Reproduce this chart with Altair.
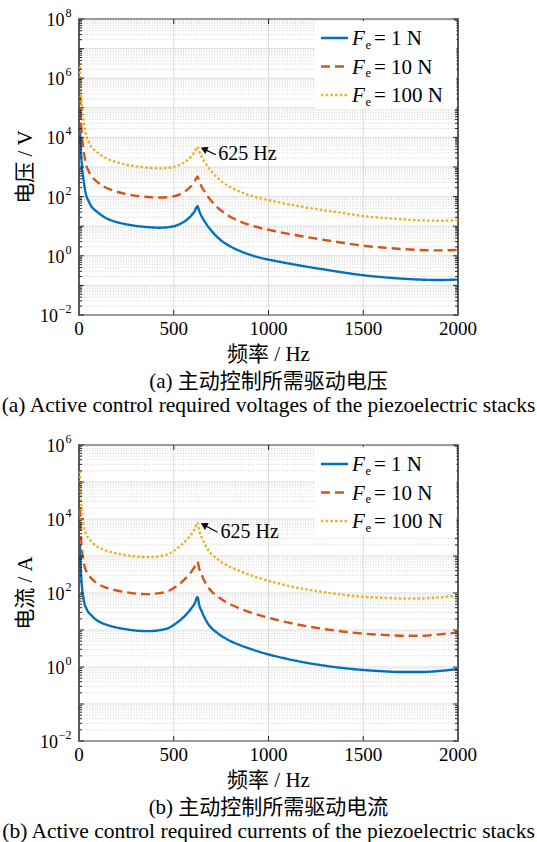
import altair as alt
import pandas as pd

# ---------------- data ----------------
FREQ = [5, 7, 10, 16, 25, 40, 50, 65, 80, 100, 135, 180, 225, 270, 315, 365, 425, 475,
        525, 560, 590, 610, 625, 635, 648, 662, 680, 700, 725, 760, 800, 850, 900, 960,
        1030, 1100, 1200, 1300, 1400, 1500, 1600, 1700, 1800, 1900, 2000]

VOLT_1N = [2.5e4, 1.0e4, 3700, 1000, 325, 100, 72, 47, 37, 29, 20, 15, 12.5, 11, 10, 9.3,
           8.9, 9.3, 11.3, 15, 22, 32, 47, 32, 21, 14.8, 10, 6.9, 4.6, 2.95, 2.05, 1.45,
           1.1, 0.85, 0.68, 0.56, 0.43, 0.34, 0.27, 0.22, 0.19, 0.17, 0.157, 0.152, 0.158]
VOLT_10N = [2.5e5, 1.0e5, 37000, 10500, 3400, 1050, 750, 490, 385, 300, 210, 160, 132, 115,
            104, 97, 93, 96, 115, 150, 220, 320, 480, 320, 210, 150, 101, 70, 46.5, 30,
            20.5, 14.5, 11, 8.6, 6.9, 5.6, 4.3, 3.4, 2.7, 2.2, 1.9, 1.7, 1.57, 1.52, 1.58]
VOLT_100N = [2.5e6, 1.0e6, 3.7e5, 1.03e5, 33000, 10300, 7300, 4800, 3800, 3000, 2100, 1580,
             1300, 1130, 1020, 950, 900, 940, 1130, 1500, 2200, 3200, 4850, 3250, 2130, 1500,
             1010, 700, 465, 300, 207, 146, 111, 87, 69, 56, 43, 34, 27.5, 22, 19.2, 17.2,
             15.8, 15.3, 15.8]

CURR_1N = [2000, 900, 380, 140, 65, 37, 30, 25, 21, 17.5, 14.5, 12.3, 11, 10.1, 9.5, 9.3,
           9.9, 11.5, 17, 24.5, 37, 52, 77, 46, 31.5, 22, 15, 11.2, 8.7, 6.5, 5.0, 3.9,
           3.15, 2.5, 2.0, 1.65, 1.3, 1.08, 0.93, 0.83, 0.77, 0.73, 0.73, 0.78, 0.88]
CURR_10N = [20000, 9000, 3800, 1400, 650, 370, 300, 250, 210, 175, 145, 123, 110, 101, 95,
            93, 99, 115, 168, 240, 360, 510, 700, 440, 300, 212, 146, 110, 85, 64, 49, 38,
            30.5, 24.5, 19.5, 16, 12.7, 10.5, 9.0, 8.0, 7.4, 7.0, 7.0, 7.6, 8.6]
CURR_100N = [2.0e5, 90000, 38000, 14000, 6500, 3700, 3000, 2500, 2100, 1750, 1450, 1230,
             1100, 1010, 950, 930, 990, 1150, 1700, 2450, 3700, 5300, 8000, 4700, 3150, 2200,
             1500, 1120, 870, 650, 500, 390, 310, 245, 195, 158, 125, 104, 89, 79, 74, 71,
             71, 76, 86]

SERIES = ["Fe = 1 N", "Fe = 10 N", "Fe = 100 N"]
LEGEND_TEXT = ["= 1 N", "= 10 N", "= 100 N"]
COLORS = ["#0072BD", "#D95319", "#EDB120"]
DASHES = [[1, 0], [9, 5], [2.5, 2.2]]
X_TICKS = [0, 500, 1000, 1500, 2000]
X_LABELS = ["0", "500", "1000", "1500", "2000"]

# annotation "625 Hz": arrow tail, arrow end, head, text (data coords)
ANN_V = {"x1": 722, "y1": 2600, "x2": 660, "y2": 4000, "hx": 659, "hy": 4050,
         "tx": 735, "ty": 2800, "angle": 295}
ANN_I = {"x1": 731, "y1": 4370, "x2": 660, "y2": 6900, "hx": 659, "hy": 6930,
         "tx": 747, "ty": 4400, "angle": 298}

FONT = "Liberation Serif, Noto Sans CJK SC"
W, H = 379, 296
AXC = "#262626"
GRID = "#dcdcdc"


def panel(vals, emin, emax, ytitle, cap_cn, cap_en, ann):
    df = pd.DataFrame({
        "f": FREQ * 3,
        "v": vals[0] + vals[1] + vals[2],
        "s": [SERIES[i] for i in range(3) for _ in FREQ],
    })
    xs = alt.Scale(domain=[0, 2000], nice=False, zero=False)
    ys = alt.Scale(type="log", domain=[10.0 ** emin, 10.0 ** emax], nice=False)
    Y = lambda field: alt.Y(field, scale=ys, axis=None)
    X = lambda field: alt.X(field, scale=xs, axis=None)

    decades = [10.0 ** e for e in range(emin, emax + 1)]
    minors = [k * 10.0 ** e for e in range(emin, emax) for k in range(2, 10)]
    dec_df = pd.DataFrame({"v": decades})
    minor_df = pd.DataFrame({"v": minors})
    xt_df = pd.DataFrame({"f": X_TICKS, "lab": X_LABELS})
    xin_df = pd.DataFrame({"f": X_TICKS[1:-1]})
    even = list(range(emin, emax + 1, 2))
    ylab_pos = pd.DataFrame({"v": [10.0 ** e for e in even if e >= 0],
                             "sup": [str(e) for e in even if e >= 0]})
    ylab_neg = pd.DataFrame({"v": [10.0 ** e for e in even if e < 0],
                             "sup": ["\u2212" + str(-e) for e in even if e < 0]})

    layers = []
    # grid
    layers.append(alt.Chart(dec_df).mark_rule(color=GRID, strokeWidth=1).encode(
        x=alt.value(0), x2=alt.value(W), y=Y("v:Q")))
    layers.append(alt.Chart(minor_df).mark_rule(color="#c8c8c8", strokeWidth=0.8,
                                                strokeDash=[1, 1.6]).encode(
        x=alt.value(0), x2=alt.value(W), y=Y("v:Q")))
    layers.append(alt.Chart(xin_df).mark_rule(color=GRID, strokeWidth=1).encode(
        y=alt.value(0), y2=alt.value(H), x=X("f:Q")))
    # curves
    layers.append(alt.Chart(df).mark_line(strokeWidth=2.4, interpolate="monotone",
                                          clip=True).encode(
        x=X("f:Q"), y=Y("v:Q"),
        color=alt.Color("s:N", scale=alt.Scale(domain=SERIES, range=COLORS), legend=None),
        strokeDash=alt.StrokeDash("s:N", scale=alt.Scale(domain=SERIES, range=DASHES),
                                  legend=None)))
    # inner ticks
    for (a, b, data) in [(0, 5, dec_df), (W - 5, W, dec_df), (0, 3, minor_df),
                         (W - 3, W, minor_df)]:
        layers.append(alt.Chart(data).mark_rule(color=AXC, strokeWidth=1).encode(
            x=alt.value(a), x2=alt.value(b), y=Y("v:Q")))
    for (a, b) in [(H, H - 5), (0, 5)]:
        layers.append(alt.Chart(xin_df).mark_rule(color=AXC, strokeWidth=1).encode(
            y=alt.value(a), y2=alt.value(b), x=X("f:Q")))
    # tick labels
    layers.append(alt.Chart(xt_df).mark_text(font=FONT, fontSize=19, align="center",
                                             baseline="alphabetic", color="black").encode(
        x=X("f:Q"), y=alt.value(H + 20), text="lab:N"))
    for data, base_x in [(ylab_pos, -14.5), (ylab_neg, -21)]:
        layers.append(alt.Chart(data).mark_text(font=FONT, fontSize=18, align="right",
                                                baseline="middle", dy=2,
                                                color="black").encode(
            x=alt.value(base_x), y=Y("v:Q"), text=alt.value("10")))
        layers.append(alt.Chart(data).mark_text(font=FONT, fontSize=12, align="right",
                                                baseline="middle", dy=-6,
                                                color="black").encode(
            x=alt.value(-7.5), y=Y("v:Q"), text="sup:N"))
    # axis titles
    one = pd.DataFrame({"a": [0]})
    layers.append(alt.Chart(one).mark_text(font=FONT, fontSize=21, align="center",
                                           baseline="alphabetic", color="black").encode(
        x=alt.value(W / 2), y=alt.value(H + 46), text=alt.value("频率 / Hz")))
    layers.append(alt.Chart(one).mark_text(font=FONT, fontSize=21, align="center",
                                           baseline="middle", angle=270,
                                           color="black").encode(
        x=alt.value(-52.7), y=alt.value(H / 2), text=alt.value(ytitle)))
    # legend
    layers.append(alt.Chart(one).mark_rect(color="white").encode(
        x=alt.value(236), x2=alt.value(W - 1.5), y=alt.value(2), y2=alt.value(90)))
    leg_df = pd.DataFrame({"s": SERIES, "lab": LEGEND_TEXT, "py": [19, 47.5, 76]})
    layers.append(alt.Chart(leg_df).mark_rule(strokeWidth=2.4).encode(
        x=alt.value(242), x2=alt.value(269), y=alt.Y("py:Q", scale=None),
        color=alt.Color("s:N", scale=alt.Scale(domain=SERIES, range=COLORS), legend=None),
        strokeDash=alt.StrokeDash("s:N", scale=alt.Scale(domain=SERIES, range=DASHES),
                                  legend=None)))
    layers.append(alt.Chart(leg_df).mark_text(font=FONT, fontSize=21, fontStyle="italic",
                                              align="left", baseline="alphabetic", dy=7,
                                              color="black").encode(
        x=alt.value(273), y=alt.Y("py:Q", scale=None), text=alt.value("F")))
    layers.append(alt.Chart(leg_df).mark_text(font=FONT, fontSize=12.5, align="left",
                                              baseline="alphabetic", dy=10.5,
                                              color="black").encode(
        x=alt.value(286.5), y=alt.Y("py:Q", scale=None), text=alt.value("e")))
    layers.append(alt.Chart(leg_df).mark_text(font=FONT, fontSize=21, align="left",
                                              baseline="alphabetic", dy=7,
                                              color="black").encode(
        x=alt.value(295), y=alt.Y("py:Q", scale=None), text="lab:N"))
    # annotation
    ann_df = pd.DataFrame({k: [v] for k, v in ann.items()})
    layers.append(alt.Chart(ann_df).mark_rule(color="black", strokeWidth=1.3).encode(
        x=X("x1:Q"), y=Y("y1:Q"), x2="x2:Q", y2="y2:Q"))
    layers.append(alt.Chart(ann_df).mark_point(shape="triangle-up", filled=True,
                                               color="black", opacity=1, size=60,
                                               angle=ann["angle"]).encode(
        x=X("hx:Q"), y=Y("hy:Q")))
    layers.append(alt.Chart(ann_df).mark_text(font=FONT, fontSize=20, align="left",
                                              baseline="middle", color="black").encode(
        x=X("tx:Q"), y=Y("ty:Q"), text=alt.value("625 Hz")))

    return alt.layer(*layers).properties(
        width=W, height=H,
        title=alt.TitleParams(text=cap_cn, subtitle=cap_en, orient="bottom", anchor="middle",
                              frame="group", font=FONT, fontSize=21, fontWeight="normal",
                              color="black", subtitleFont=FONT, subtitleFontSize=21.5,
                              subtitleColor="black", subtitlePadding=3, offset=6))


p1 = panel([VOLT_1N, VOLT_10N, VOLT_100N], -2, 8, "电压 / V",
           "(a) 主动控制所需驱动电压",
           "(a) Active control required voltages of the piezoelectric stacks", ANN_V)
p2 = panel([CURR_1N, CURR_10N, CURR_100N], -2, 6, "电流 / A",
           "(b) 主动控制所需驱动电流",
           "(b) Active control required currents of the piezoelectric stacks", ANN_I)

chart = alt.vconcat(p1, p2, spacing=130, bounds="flush").configure_view(
    stroke=AXC, strokeWidth=1.5).properties(
    padding={"left": 0, "top": 6, "right": 0, "bottom": 0}, background="white")

chart.save("out.html", embed_options={"renderer": "svg", "actions": False})
